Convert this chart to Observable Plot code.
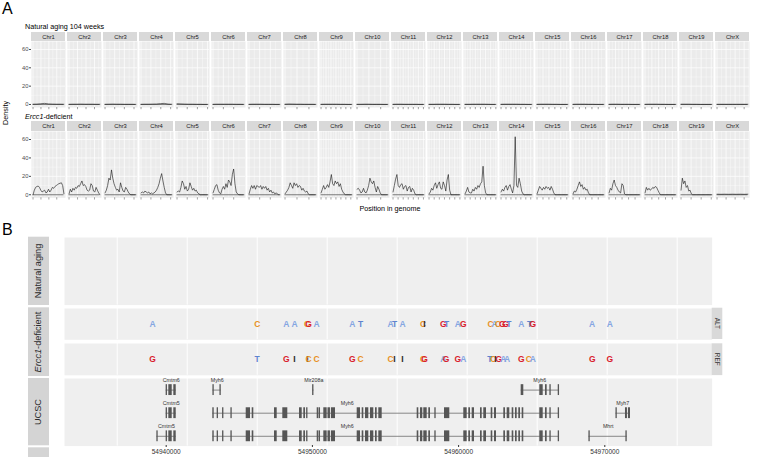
<!DOCTYPE html>
<html><head><meta charset="utf-8">
<script src="https://cdn.jsdelivr.net/npm/d3@7"></script>
<script src="https://cdn.jsdelivr.net/npm/@observablehq/plot@0.6"></script>
<style>
body{margin:0;background:#fff;}
#fig{position:relative;width:757px;height:457px;overflow:hidden;font-family:"Liberation Sans",Arial,Helvetica,sans-serif;}
.t{position:absolute;white-space:nowrap;color:#000;line-height:1;}
</style></head><body><div id="fig"></div>
<script>
// ---------------- Panel A data ----------------
const chroms = ["Chr1","Chr2","Chr3","Chr4","Chr5","Chr6","Chr7","Chr8","Chr9","Chr10","Chr11","Chr12","Chr13","Chr14","Chr15","Chr16","Chr17","Chr18","Chr19","ChrX"];
const chrLenMb = [195.47,182.11,160.04,156.51,151.83,149.74,145.44,129.40,124.60,130.69,122.08,120.13,120.42,124.90,104.04,98.21,94.99,90.70,61.43,171.03];
const yTicksA = [0,20,40,60];
const yMinorA = [10,30,50];
// density values at evenly spaced positions along each chromosome
const naturalDensity = [
  [0.3,0.4,0.8,1.2,0.6,0.4,0.3,0.3,0.2],
  [0.2,0.3,0.3,0.4,0.3,0.3,0.3,0.2,0.2],
  [0.2,0.3,0.4,0.3,0.3,0.2,0.2,0.2,0.1],
  [0.2,0.3,0.3,0.4,0.5,0.9,1.2,0.4,0.2],
  [0.8,0.6,0.4,0.3,0.3,0.2,0.2,0.1,0.1],
  [0.2,0.3,0.3,0.3,0.3,0.3,0.2,0.2,0.1],
  [0.2,0.3,0.3,0.3,0.2,0.2,0.2,0.1,0.1],
  [0.3,0.5,0.4,0.3,0.3,0.2,0.2,0.2,0.1],
  [0.2,0.3,0.3,0.3,0.3,0.2,0.2,0.1,0.1],
  [0.2,0.2,0.3,0.3,0.2,0.2,0.2,0.1,0.1],
  [0.2,0.3,0.3,0.2,0.2,0.2,0.2,0.1,0.1],
  [0.2,0.2,0.3,0.3,0.3,0.2,0.2,0.1,0.1],
  [0.2,0.2,0.3,0.3,0.3,0.3,0.2,0.1,0.1],
  [0.2,0.3,0.3,0.3,0.3,0.2,0.2,0.1,0.1],
  [0.2,0.3,0.3,0.3,0.2,0.2,0.1,0.1,0.1],
  [0.2,0.3,0.3,0.3,0.2,0.2,0.1,0.1,0.1],
  [0.2,0.3,0.3,0.2,0.2,0.2,0.1,0.1,0.1],
  [0.2,0.3,0.3,0.3,0.2,0.2,0.1,0.1,0.1],
  [0.3,0.3,0.3,0.2,0.2,0.1,0.1,0.1,0.1],
  [0.2,0.2,0.2,0.2,0.2,0.2,0.2,0.2,0.2]
];
const erccDensity = [
  [0,5,8,9,9.5,8,5,3,4,5,2,3,6,3,5,8,7,9,10,11,12,12.5,13,10,1],
  [1,6,3,7,5,8,7,10,9,12,15,10,11,9,5,4,5,12,10,4,3,8,5,2,0],
  [2,5,10,18,16,27,18,12,8,5,6,3,13,8,4,3,8,6,3,1,0,0,0,0,0],
  [2,3,2,4,3,2,3,1,2,1,2,3,5,8,12,18,23,15,8,2,0,0,0,0,0],
  [3,4,3,8,15,12,6,9,4,6,13,9,5,7,4,5,2,1,0,0,0,0,0,0,0],
  [2,6,10,11,5,2,1,6,9,6,12,8,16,14,10,22,28,12,3,1,0,0,0,0,0],
  [1,6,10,7,10,6,10,9,8,10,6,9,7,9,5,7,3,5,2,3,1,2,1,0,0],
  [1,3,5,8,13,10,7,13,10,12,8,10,9,5,7,4,3,4,1,0,0,0,0,0,0],
  [2,6,10,6,8,11,8,14,22,12,10,15,12,14,9,12,6,3,1,0,0,0,0,0,0],
  [6,7,5,2,3,7,3,2,5,10,18,14,12,15,8,3,9,6,2,0,0,0,0,0,0],
  [3,10,17,22,10,8,11,12,6,9,10,4,8,9,3,7,5,1,0,0,0,0,0,0,0],
  [1,3,7,5,10,13,7,11,14,7,6,14,10,4,16,22,5,0,0,0,0,0,0,0,0],
  [1,4,8,3,2,2,6,4,8,6,10,8,12,14,31,10,2,0,0,0,0,0,0,0,0],
  [3,6,4,8,10,5,9,11,6,2,10,63,10,8,18,12,4,1,0,0,0,0,0,0,0],
  [1,5,9,7,5,8,6,9,7,8,5,9,6,2,0,0,0,0,0,0,0,0,0,0,0],
  [1,4,3,6,10,14,9,11,6,8,5,6,2,0,0,0,0,0,0,0,0,0,0,0,0],
  [2,7,5,12,16,10,8,5,3,2,12,10,1,0,0,0,0,0,0,0,0,0,0,0,0],
  [2,8,5,7,5,6,8,7,9,8,5,2,0,0,0,0,0,0,0,0,0,0,0,0,0],
  [5,18,12,15,8,10,4,5,1,0,0,0,0,0,0,0,0,0,0,0,0,0,0,0,0],
  [0.6,0.5,0.6,0.5,0.6,0.5,0.6,0.5,0.6]
];

// ---------------- Panel B data ----------------
const xDomainB = [54933044, 54977346];
const xTicksB = [54940000, 54950000, 54960000, 54970000];
const gridB = [54936648, 54941436, 54946224, 54951012, 54955800, 54960588, 54965376, 54970164, 54974952];
const bases = ["A","C","G","T","I"];
const baseColors = ["#84A5E2","#E8921F","#D9202C","#5E84CF","#2A2A2A"];
const altPos = [54939063,54946224,54948208,54948776,54949631,54949733,54950281,54952722,54953290,54955342,54955616,54956163,54957565,54957668,54958947,54959173,54959945,54960315,54962182,54962456,54962695,54962982,54963208,54963434,54964282,54964850,54965075,54969138,54970342];
const altBase = ["A","C","A","A","C","G","A","A","T","A","T","A","C","I","G","T","A","G","C","A","C","G","G","T","A","T","G","A","A"];
const refPos = [54939063,54946224,54948208,54948776,54949665,54949733,54950281,54952722,54953290,54955342,54955616,54956163,54957565,54957668,54958947,54959138,54959945,54960315,54962134,54962367,54962524,54962750,54963051,54963324,54964282,54964802,54965075,54969138,54970342];
const refBase = ["G","T","G","I","I","C","C","G","C","C","I","I","C","G","A","G","G","A","T","C","I","G","A","A","G","C","A","G","G"];

const myh6Exons = [[54943187,54943283],[54943485,54943575],[54943855,54943945],[54944425,54944515],[54945472,54945766],[54945882,54945992],[54947408,54947592],[54947975,54948317],[54949118,54949302],[54949412,54949528],[54949605,54949695],[54950328,54950438],[54950465,54950555],[54950780,54951010],[54951065,54951235],[54951300,54951580],[54953064,54953290],[54953406,54953516],[54953632,54953858],[54953974,54954200],[54954316,54954432],[54954542,54954774],[54957168,54957278],[54957394,54957551],[54957620,54957852],[54957962,54958078],[54958375,54958465],[54959036,54959398],[54960356,54960588],[54960698,54960814],[54960930,54961088],[54961498,54961614],[54961724,54961909],[54962230,54962339],[54962456,54962593],[54963092,54963208],[54963324,54963502],[54963666,54963776],[54963892,54964008],[54964118,54964234],[54964350,54964460],[54965554,54965787],[54965944,54966060],[54966245,54966335],[54966815,54966905]];
const trName  = ["Cmtm6","Myh6","Mir208a","Myh6","Cmtm5","Myh6","Myh7","Cmtm5","Myh6","Mhrt"];
const trRow   = [1,1,1,1,2,2,2,3,3,3];
const trLabel = [54940342,54943488,54950096,54965554,54940342,54952380,54971231,54940021,54952380,54970233];
const trExons = [
  [[54939995,54940085],[54940178,54940410],[54940520,54940684]],
  [[54943195,54943285],[54943675,54943765]],
  [[54950015,54950105]],
  [[54964282,54964460],[54965554,54965787],[54965944,54966060],[54966245,54966335],[54966815,54966905]],
  [[54939995,54940085],[54940178,54940410],[54940520,54940684]],
  myh6Exons,
  [[54970765,54970855],[54971416,54971550],[54971620,54971758]],
  [[54939360,54939450],[54939995,54940085],[54940178,54940410],[54940520,54940684]],
  myh6Exons,
  [[54968915,54969005],[54971445,54971535]]
];

// ---------------- helpers ----------------
const fig = document.getElementById("fig");
const plotStyle = {background:"transparent", overflow:"visible", fontFamily:"'Liberation Sans',Arial,sans-serif"};
function place(el, top){ el.style.position="absolute"; el.style.left="0px"; el.style.top=top+"px"; el.style.maxWidth="none"; fig.appendChild(el); }
function label(html, css){ const d=document.createElement("div"); d.className="t"; d.innerHTML=html; Object.assign(d.style, css); fig.appendChild(d); return d; }

function densityTable(series){
  const out=[];
  chroms.forEach((c,k)=>{ const v=series[k]; v.forEach((d,i)=>{ const pos=i/(v.length-1)*chrLenMb[k]; out.push({chr:c, pos, frac:pos/chrLenMb[k], v:d}); }); });
  return out;
}
const majorX=[], minorX=[];
chroms.forEach((c,k)=>{ const L=chrLenMb[k]; const t=d3.ticks(0,L,4); t.forEach(v=>majorX.push({chr:c, frac:v/L})); for(let i=0;i<t.length;i++){ const m=(i<t.length-1)? (t[i]+t[i+1])/2 : t[i]+(t[1]-t[0])/2; if(m<=L*1.04) minorX.push({chr:c, frac:m/L}); } });

function densityRow(series, top, height, mTop, mBottom, stripPx){
  const y0=-3.3, y1=68.7;
  const panelPx=height-mTop-mBottom;
  const u=(y1-y0)/panelPx;
  const p = Plot.plot({
    width:757, height, marginLeft:24, marginRight:1, marginTop:mTop, marginBottom:mBottom,
    style: plotStyle,
    fx:{domain:chroms, paddingInner:0.05, paddingOuter:0, axis:null, label:null},
    x:{domain:[-0.05,1.05], axis:null},
    y:{domain:[y0,y1], axis:null},
    marks:[
      Plot.frame({fill:"#EBEBEB", stroke:"none"}),
      Plot.ruleX(minorX, {fx:"chr", x:"frac", y1:y0, y2:y1, stroke:"#fff", strokeWidth:0.35}),
      Plot.ruleX(majorX, {fx:"chr", x:"frac", y1:y0, y2:y1, stroke:"#fff", strokeWidth:0.7}),
      Plot.gridY(yMinorA, {stroke:"#fff", strokeOpacity:1, strokeWidth:0.35}),
      Plot.gridY(yTicksA, {stroke:"#fff", strokeOpacity:1, strokeWidth:0.7}),
      Plot.rect(chroms, {fx:d=>d, x1:-0.05, x2:1.05, y1:y1, y2:y1+stripPx*u, fill:"#D9D9D9"}),
      Plot.text(chroms, {fx:d=>d, x:0.5, y:y1+stripPx*u/2, text:d=>d, fontSize:5.8, fill:"#1A1A1A"}),
      Plot.ruleX(majorX, {fx:"chr", x:"frac", y1:y0, y2:y0-2.2*u, stroke:"#444", strokeWidth:0.5}),
      Plot.ruleY(chroms, {fx:d=>d, x1:0, x2:1, y:0, stroke:"#222", strokeWidth:0.6}),
      Plot.line(densityTable(series), {fx:"chr", x:"frac", y:"v", stroke:"#111", strokeWidth:0.6}),
      Plot.axisY({ticks:yTicksA, tickSize:2, tickPadding:1, fontSize:5.8, color:"#4D4D4D", label:null})
    ]
  });
  place(p, top);
}

// ---------------- Panel A ----------------
label("A", {left:"2px", top:"1px", fontSize:"16px"});
label("Natural aging 104 weeks", {left:"25px", top:"22.5px", fontSize:"7.2px"});
densityRow(naturalDensity, 30, 84, 11, 7, 9);
label("<i>Ercc1</i>-deficient", {left:"25px", top:"112.5px", fontSize:"7.2px"});
densityRow(erccDensity, 119, 85, 12, 6.7, 10);
label("Position in genome", {left:"390px", top:"205px", fontSize:"7.2px", transform:"translateX(-50%)"});
label("Density", {left:"5.5px", top:"113px", fontSize:"7.2px", transform:"translate(-50%,-50%) rotate(-90deg)"});

// ---------------- Panel B ----------------
label("B", {left:"2px", top:"222px", fontSize:"16px"});

function track(top, height, marks, yopt){
  const p = Plot.plot({
    width:757, height, marginLeft:64, marginRight:45.3, marginTop:0, marginBottom:0,
    style: plotStyle,
    x:{domain:xDomainB, axis:null},
    y: yopt || {domain:[0,1], axis:null},
    color:{domain:bases, range:baseColors},
    marks:[
      Plot.frame({fill:"#EFEFEF", stroke:"none"}),
      Plot.ruleX(gridB, {stroke:"#fff", strokeWidth:1}),
      ...marks
    ]
  });
  place(p, top);
}
track(236.7, 67.6, []);
const altData = altPos.map((p,i)=>({pos:p, base:altBase[i]}));
const refData = refPos.map((p,i)=>({pos:p, base:refBase[i]}));
track(307.7, 31.3, [Plot.text(altData, {x:"pos", frameAnchor:"middle", text:"base", fill:"base", fontSize:8.5, fontWeight:"bold"})]);
track(343.3, 31.8, [Plot.text(refData, {x:"pos", frameAnchor:"middle", text:"base", fill:"base", fontSize:8.5, fontWeight:"bold"})]);

const trData = trName.map((n,i)=>({name:n, row:trRow[i], label:trLabel[i], start:d3.min(trExons[i],e=>e[0]), end:d3.max(trExons[i],e=>e[1])}));
const exonData = trExons.flatMap((ex,i)=>ex.map(e=>({row:trRow[i], s:e[0], e:e[1]})));
track(377.7, 67.6, [
  Plot.ruleY(trData, {x1:"start", x2:"end", y:"row", stroke:"#7A7A7A", strokeWidth:0.9}),
  Plot.rect(exonData, {x1:"s", x2:"e", y1:d=>d.row-0.235, y2:d=>d.row+0.235, fill:"#565656"}),
  Plot.text(trData, {x:"label", y:"row", dy:-10, text:"name", fontSize:5.3, fill:"#333"})
], {domain:[1,3], range:[11.6,57.8], axis:null});

const axisB = Plot.plot({
  width:757, height:16, marginLeft:64, marginRight:45.3, marginTop:2, marginBottom:14,
  style: plotStyle,
  x:{domain:xDomainB},
  marks:[Plot.axisX({ticks:xTicksB, tickFormat:d=>String(d), tickSize:2, tickPadding:1.5, fontSize:6.5, color:"#333", label:null})]
});
place(axisB, 443.3);

// strips for panel B (overlay svg)
const ov = d3.create("svg").attr("width",757).attr("height",457).style("position","absolute").style("left","0px").style("top","0px").style("overflow","visible");
const leftStrips = [
  {y0:236.7, y1:305, lab:"Natural aging"},
  {y0:307.3, y1:376, lab:"<i>Ercc1</i>-deficient"},
  {y0:378, y1:445.3, lab:"UCSC"},
  {y0:447.3, y1:457, lab:""}
];
leftStrips.forEach(s=>{
  ov.append("rect").attr("x",28).attr("y",s.y0).attr("width",21).attr("height",s.y1-s.y0).attr("fill","#D4D4D4");
});
const rightStrips = [{y0:307.7, y1:339, lab:"ALT"},{y0:343.3, y1:375.1, lab:"REF"}];
rightStrips.forEach(s=>{
  ov.append("rect").attr("x",711.7).attr("y",s.y0).attr("width",10.6).attr("height",s.y1-s.y0).attr("fill","#D9D9D9");
  ov.append("text").attr("transform",`translate(${717},${(s.y0+s.y1)/2}) rotate(90)`).attr("text-anchor","middle").attr("dy","0.35em")
    .attr("font-size",6.4).attr("fill","#333").attr("font-family","'Liberation Sans',Arial,sans-serif").text(s.lab);
});
fig.appendChild(ov.node());
leftStrips.forEach(s=>{
  if(!s.lab) return;
  label(s.lab, {left:"38.5px", top:((s.y0+s.y1)/2)+"px", fontSize:"9.2px", color:"#2B2B2B", transform:"translate(-50%,-50%) rotate(-90deg)"});
});
</script></body></html>
